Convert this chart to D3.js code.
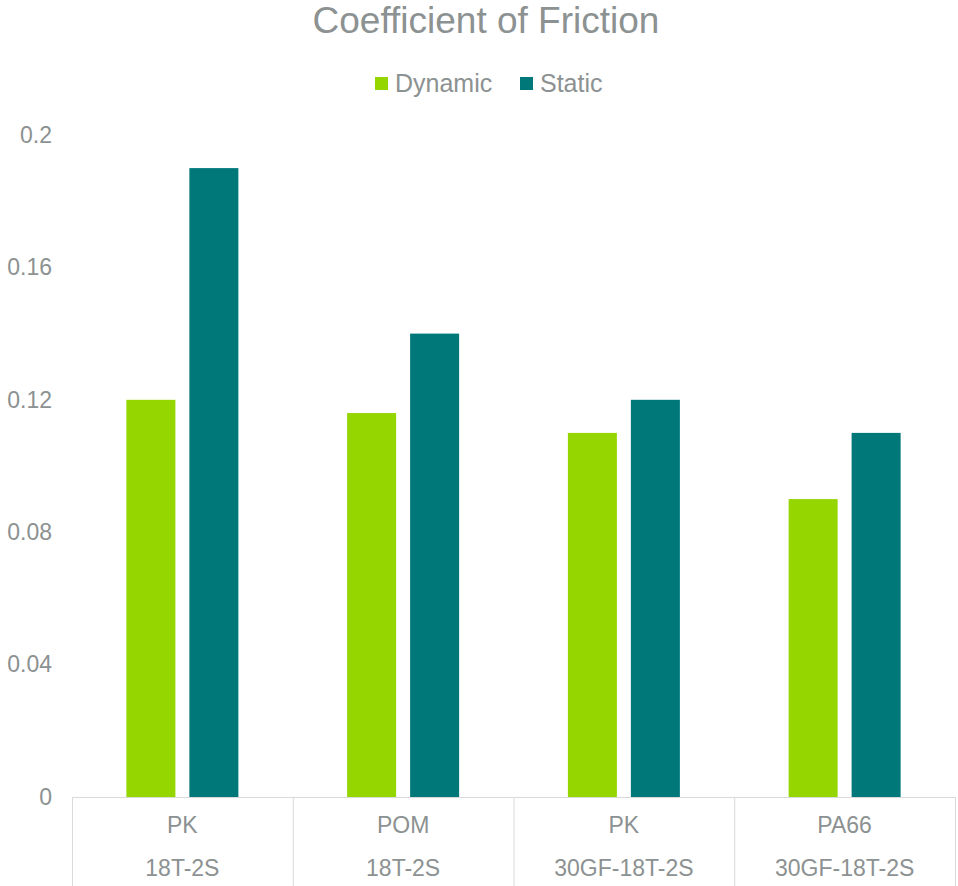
<!DOCTYPE html>
<html><head><meta charset="utf-8">
<script src="https://cdn.jsdelivr.net/npm/d3@7"></script>
<style>body{margin:0;background:#fff;}svg{display:block;font-family:"Liberation Sans",Arial,sans-serif;}</style>
</head><body>
<script>
const categoriesTop = ["PK","POM","PK","PA66"];
const categoriesBottom = ["18T-2S","18T-2S","30GF-18T-2S","30GF-18T-2S"];
const seriesNames = ["Dynamic","Static"];
const dynamicValues = [0.12,0.116,0.11,0.09];
const staticValues = [0.19,0.14,0.12,0.11];
const yTicks = [0,0.04,0.08,0.12,0.16,0.2];
const yTickLabels = ["0","0.04","0.08","0.12","0.16","0.2"];
const colors = ["#95d600","#00787a"];

(function(){
const W=958,H=886;
const svg=d3.select("body").append("svg").attr("width",W).attr("height",H);
const mLeft=72,mRight=955,mTop=135,mBottom=797;
const idx=d3.range(categoriesTop.length);
const x=d3.scaleBand().domain(idx).range([mLeft,mRight]);
const y=d3.scaleLinear().domain([0,0.2]).range([mBottom,mTop]);
const x1=d3.scaleBand().domain([0,1]).range([0,112]).paddingInner(0.222);
const textColor="#8c9191";
const ff="'Liberation Sans',Arial,sans-serif";

svg.append("text").attr("x",486).attr("y",33).attr("text-anchor","middle")
  .attr("font-size",37).attr("fill",textColor).text("Coefficient of Friction");

const legX=[375,520];
seriesNames.forEach((n,i)=>{
  svg.append("rect").attr("x",legX[i]).attr("y",77).attr("width",13).attr("height",13).attr("fill",colors[i]);
  svg.append("text").attr("x",legX[i]+20).attr("y",92).attr("font-size",25).attr("fill",textColor).text(n);
});

const yAxis=d3.axisLeft(y).tickValues(yTicks).tickFormat((d,i)=>yTickLabels[i]).tickSize(0).tickPadding(20);
const ga=svg.append("g").attr("transform",`translate(${mLeft},0)`).call(yAxis);
ga.select(".domain").remove();
ga.selectAll("text").attr("font-size",23).attr("fill",textColor).attr("font-family",ff);

const data=[dynamicValues,staticValues];
idx.forEach(c=>{
  const cx=x(c)+x.bandwidth()/2-56;
  data.forEach((vals,s)=>{
    svg.append("rect").attr("x",cx+x1(s)).attr("y",y(vals[c])).attr("width",x1.bandwidth())
      .attr("height",y(0)-y(vals[c])).attr("fill",colors[s]);
  });
});

const lineColor="#d9d9d9";
svg.append("line").attr("x1",mLeft).attr("x2",mRight).attr("y1",mBottom+0.5).attr("y2",mBottom+0.5).attr("stroke",lineColor);
const bounds=idx.map(i=>x(i)).concat([mRight]);
bounds.forEach(b=>{
  svg.append("line").attr("x1",b+0.5).attr("x2",b+0.5).attr("y1",mBottom).attr("y2",H).attr("stroke",lineColor);
});
idx.forEach(c=>{
  const cx=x(c)+x.bandwidth()/2;
  svg.append("text").attr("x",cx).attr("y",833).attr("text-anchor","middle").attr("font-size",23).attr("fill",textColor).text(categoriesTop[c]);
  svg.append("text").attr("x",cx).attr("y",876).attr("text-anchor","middle").attr("font-size",23).attr("fill",textColor).text(categoriesBottom[c]);
});
})();
</script>
</body></html>
